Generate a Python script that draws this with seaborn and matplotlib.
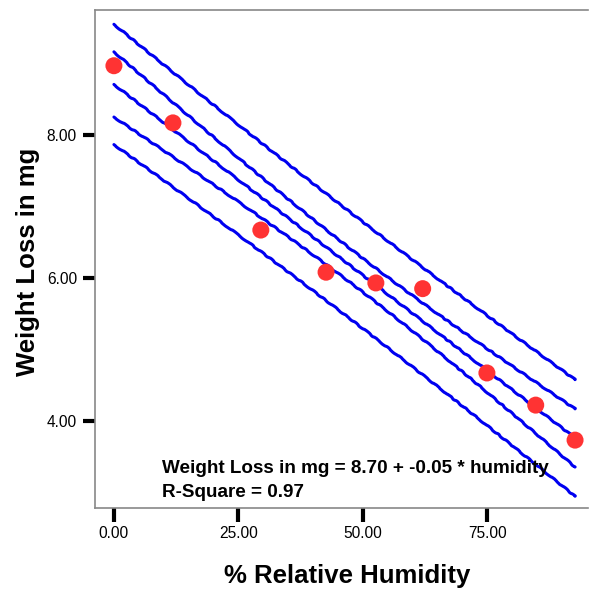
import numpy as np
import pandas as pd
import matplotlib
matplotlib.use("Agg")
import matplotlib.pyplot as plt
import seaborn as sns

# Data
humidity = [0.0, 11.85, 29.5, 42.6, 52.6, 62.0, 74.9, 84.7, 92.6]
weight_loss = [8.97, 8.17, 6.67, 6.08, 5.93, 5.85, 4.67, 4.22, 3.73]
x_ticks = [0, 25, 50, 75]
x_tick_labels = ["0.00", "25.00", "50.00", "75.00"]
y_ticks = [4, 6, 8]
y_tick_labels = ["4.00", "6.00", "8.00"]
equation_text = "Weight Loss in mg = 8.70 + -0.05 * humidity"
r2_text = "R-Square = 0.97"
t_crit = 2.365  # t(0.975, df=7)

sns.set_theme(style="white")
plt.rcParams["font.family"] = ["Liberation Sans", "DejaVu Sans"]
plt.rcParams["text.color"] = "black"
plt.rcParams["axes.labelcolor"] = "black"
plt.rcParams["xtick.color"] = "black"
plt.rcParams["ytick.color"] = "black"

df = pd.DataFrame({"humidity": humidity, "weight": weight_loss})

# Linear regression with mean-confidence and prediction bands
x = np.array(humidity)
y = np.array(weight_loss)
n = len(x)
b1, b0 = np.polyfit(x, y, 1)
resid = y - (b0 + b1 * x)
s = np.sqrt(np.sum(resid ** 2) / (n - 2))
sxx = np.sum((x - x.mean()) ** 2)
xg = np.linspace(x.min(), x.max(), 200)
yg = b0 + b1 * xg
se_mean = s * np.sqrt(1 / n + (xg - x.mean()) ** 2 / sxx)
se_pred = s * np.sqrt(1 + 1 / n + (xg - x.mean()) ** 2 / sxx)

fig = plt.figure(figsize=(5.89, 5.90), dpi=100)
ax = fig.add_axes([95 / 589, 82 / 590, 493 / 589, 498 / 590])

bands = [yg + t_crit * se_pred, yg + t_crit * se_mean, yg,
         yg - t_crit * se_mean, yg - t_crit * se_pred]
for band in bands:
    line = ax.plot(xg, band, color="#0000f0", lw=2.2, zorder=2)[0]
    line.set_sketch_params(scale=0.5, length=18, randomness=3)

sns.scatterplot(data=df, x="humidity", y="weight", ax=ax, s=150,
                color="#ff3333", edgecolor="none", zorder=3)

ax.set_xlim(-3.8, 95.2)
ax.set_ylim(2.78, 9.75)
ax.set_xticks(x_ticks)
ax.set_xticklabels(x_tick_labels)
ax.set_yticks(y_ticks)
ax.set_yticklabels(y_tick_labels)
ax.tick_params(axis="x", length=10, width=3, color="black", labelsize=11.2,
               pad=3, direction="out", bottom=True, labelcolor="black")
ax.tick_params(axis="y", length=9, width=3, color="black", labelsize=11.2,
               pad=4, direction="out", left=True, labelcolor="black")

for side in ["left", "bottom", "top"]:
    ax.spines[side].set_color("#888888")
    ax.spines[side].set_linewidth(1.2)
ax.spines["right"].set_visible(False)

ax.set_xlabel("% Relative Humidity", fontsize=18.5, fontweight="bold", color="black")
ax.set_ylabel("Weight Loss in mg", fontsize=18.5, fontweight="bold", color="black")
ax.xaxis.label.set_va("center")
ax.yaxis.label.set_va("center")
ax.xaxis.set_label_coords(0.511, -0.137)
ax.yaxis.set_label_coords(-0.136, 0.494)

ax.text(9.6, 3.27, equation_text, fontsize=13.6, fontweight="bold",
        ha="left", va="baseline", zorder=4)
ax.text(9.6, 2.93, r2_text, fontsize=13.6, fontweight="bold",
        ha="left", va="baseline", zorder=4)

fig.savefig("out.png", dpi=100)
